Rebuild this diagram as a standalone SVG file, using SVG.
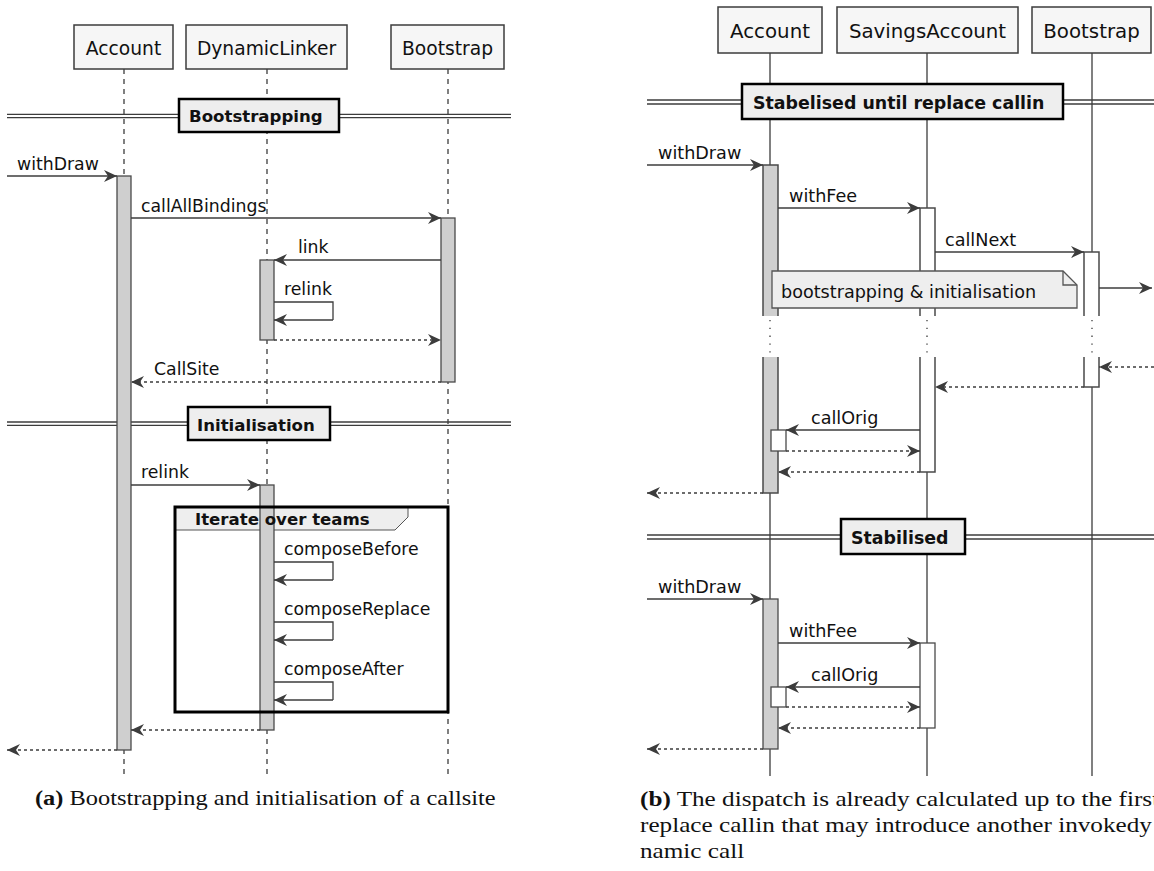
<svg xmlns="http://www.w3.org/2000/svg" width="1154" height="871" viewBox="0 0 1154 871">
<style>
.bg{fill:#ffffff}
.part rect{fill:#f6f6f6;stroke:#3c3c3c;stroke-width:1.5}
.ptxt{font-family:"DejaVu Sans",sans-serif;fill:#111;text-anchor:middle}
.ll{stroke:#3c3c3c;stroke-width:1.3;fill:none}
.lld{stroke:#3c3c3c;stroke-width:1.3;stroke-dasharray:5,5;fill:none}
.dots{stroke:#3c3c3c;stroke-width:1.3;stroke-dasharray:1.3,6.5;fill:none}
.act{fill:#cfcfcf;stroke:#4a4a4a;stroke-width:1.3}
.actw{fill:#ffffff;stroke:#4a4a4a;stroke-width:1.3}
.actf{fill:#cfcfcf;stroke:none}
.actfw{fill:#ffffff;stroke:none}
.side{stroke:#4a4a4a;stroke-width:1.5;fill:none}
.msg{stroke:#3c3c3c;stroke-width:1.3;fill:none;marker-end:url(#ah)}
.ret{stroke:#3c3c3c;stroke-width:1.3;fill:none;stroke-dasharray:3,3;marker-end:url(#ah)}
.self{stroke:#3c3c3c;stroke-width:1.3;fill:none}
.lbl{font-family:"DejaVu Sans",sans-serif;font-size:17.3px;fill:#111}
.lblb{font-family:"DejaVu Sans",sans-serif;font-size:17.6px;fill:#111}
.divl{stroke:#3c3c3c;stroke-width:1.3;fill:none}
.divb{fill:#eeeeee;stroke:#000;stroke-width:2.5}
.divt{font-family:"DejaVu Sans",sans-serif;font-weight:bold;font-size:16.6px;fill:#111}
.divtb{font-family:"DejaVu Sans",sans-serif;font-weight:bold;font-size:17.4px;fill:#111}
.cap{font-family:"Liberation Serif","Times New Roman",serif;font-size:20px;fill:#111}
</style>
<defs>
<marker id="ah" viewBox="-14 -7 15 14" refX="0" refY="0" markerWidth="15" markerHeight="14" markerUnits="userSpaceOnUse" orient="auto">
<path d="M0,0 L-13,-6 L-9,0 L-13,6 Z" fill="#3c3c3c"/>
</marker>
</defs>
<rect class="bg" x="0" y="0" width="1154" height="871"/>

<!-- ===== Left diagram ===== -->
<g id="left-lifelines">
<line class="lld" x1="124" y1="69" x2="124" y2="776"/>
<line class="lld" x1="267" y1="69" x2="267" y2="776"/>
<line class="lld" x1="448" y1="69" x2="448" y2="776"/>
</g>
<g id="a-account" class="part"><rect x="74" y="25" width="99" height="44"/><text class="ptxt" x="123.5" y="54.5" font-size="18.7">Account</text></g>
<g id="a-linker" class="part"><rect x="186" y="25" width="161" height="44"/><text class="ptxt" x="266.5" y="54.5" font-size="18.7">DynamicLinker</text></g>
<g id="a-bootstrap" class="part"><rect x="391" y="25" width="113" height="44"/><text class="ptxt" x="447.5" y="54.5" font-size="18.7">Bootstrap</text></g>

<g id="a-div-bootstrapping">
<line class="divl" x1="7" y1="114.3" x2="511" y2="114.3"/>
<line class="divl" x1="7" y1="117.7" x2="511" y2="117.7"/>
<rect class="divb" x="179" y="99" width="160" height="33"/>
<text class="divt" x="189" y="122">Bootstrapping</text>
</g>
<g id="a-div-init">
<line class="divl" x1="7" y1="422" x2="511" y2="422"/>
<line class="divl" x1="7" y1="425.4" x2="511" y2="425.4"/>
<rect class="divb" x="188" y="407" width="142" height="33"/>
<text class="divt" x="197" y="430.5">Initialisation</text>
</g>

<g id="a-activations">
<rect class="act" x="117" y="176" width="14" height="574"/>
<rect class="act" x="441" y="218" width="14" height="164"/>
<rect class="act" x="260" y="260" width="14" height="80"/>
</g>

<g id="a-loop">
<path d="M175,507 H408 V517 L395,530 H175 Z" fill="#eeeeee" stroke="#555" stroke-width="1"/>
<rect class="act" x="260" y="485" width="14" height="245"/>
<rect x="175" y="507" width="273" height="205" fill="none" stroke="#000" stroke-width="3"/>
<text class="divt" x="195" y="525">Iterate over teams</text>
</g>

<g id="a-connectors">
<line class="msg" x1="7" y1="176" x2="117" y2="176"/>
<text class="lbl" x="17" y="169.5">withDraw</text>
<line class="msg" x1="131" y1="218" x2="441" y2="218"/>
<text class="lbl" x="141" y="211.5">callAllBindings</text>
<line class="msg" x1="441" y1="260" x2="274" y2="260"/>
<text class="lbl" x="298" y="253">link</text>
<path class="self" d="M274,302 H333 V320"/>
<line class="msg" x1="333" y1="320" x2="274" y2="320"/>
<text class="lbl" x="284" y="295">relink</text>
<line class="ret" x1="274" y1="340" x2="441" y2="340"/>
<line class="ret" x1="441" y1="382" x2="131" y2="382"/>
<text class="lbl" x="154" y="375">CallSite</text>
<line class="msg" x1="131" y1="485" x2="260" y2="485"/>
<text class="lbl" x="141" y="478">relink</text>
<path class="self" d="M274,562 H333 V580"/>
<line class="msg" x1="333" y1="580" x2="274" y2="580"/>
<text class="lbl" x="284" y="555">composeBefore</text>
<path class="self" d="M274,622 H333 V640"/>
<line class="msg" x1="333" y1="640" x2="274" y2="640"/>
<text class="lbl" x="284" y="615">composeReplace</text>
<path class="self" d="M274,682 H333 V700"/>
<line class="msg" x1="333" y1="700" x2="274" y2="700"/>
<text class="lbl" x="284" y="675">composeAfter</text>
<line class="ret" x1="260" y1="730" x2="131" y2="730"/>
<line class="ret" x1="117" y1="750" x2="7" y2="750"/>
</g>

<!-- ===== Right diagram ===== -->
<g id="right-lifelines">
<line class="ll" x1="770" y1="53" x2="770" y2="316"/>
<line class="ll" x1="770" y1="357" x2="770" y2="776"/>
<line class="ll" x1="927" y1="53" x2="927" y2="316"/>
<line class="ll" x1="927" y1="357" x2="927" y2="776"/>
<line class="ll" x1="1092" y1="53" x2="1092" y2="316"/>
<line class="ll" x1="1092" y1="357" x2="1092" y2="776"/>
<line class="dots" x1="770" y1="320" x2="770" y2="356"/>
<line class="dots" x1="927" y1="320" x2="927" y2="356"/>
<line class="dots" x1="1092" y1="320" x2="1092" y2="356"/>
</g>
<g id="b-account" class="part"><rect x="718" y="7" width="104" height="46"/><text class="ptxt" x="770" y="38" font-size="19.8">Account</text></g>
<g id="b-savings" class="part"><rect x="837" y="7" width="181" height="46"/><text class="ptxt" x="927.5" y="38" font-size="19.8">SavingsAccount</text></g>
<g id="b-bootstrap" class="part"><rect x="1032" y="7" width="119" height="46"/><text class="ptxt" x="1091.5" y="38" font-size="19.8">Bootstrap</text></g>

<g id="b-div-until">
<line class="divl" x1="647" y1="100" x2="1154" y2="100"/>
<line class="divl" x1="647" y1="104" x2="1154" y2="104"/>
<rect class="divb" x="742" y="84" width="321" height="35"/>
<text class="divtb" x="753" y="108.5">Stabelised until replace callin</text>
</g>
<g id="b-div-stab">
<line class="divl" x1="647" y1="535" x2="1154" y2="535"/>
<line class="divl" x1="647" y1="539" x2="1154" y2="539"/>
<rect class="divb" x="841" y="519" width="124" height="35"/>
<text class="divtb" x="851" y="543.5">Stabilised</text>
</g>

<g id="b-activations">
<rect class="actf" x="763" y="165" width="15" height="151"/>
<path class="side" d="M763,316 V165 H778 V316"/>
<rect class="actf" x="763" y="357" width="15" height="136"/>
<path class="side" d="M763,357 V493 H778 V357"/>
<rect class="actfw" x="920" y="208" width="15" height="108"/>
<path class="side" d="M920,316 V208 H935 V316"/>
<rect class="actfw" x="920" y="357" width="15" height="115"/>
<path class="side" d="M920,357 V472 H935 V357"/>
<rect class="actfw" x="1084" y="252" width="15" height="64"/>
<path class="side" d="M1084,316 V252 H1099 V316"/>
<rect class="actfw" x="1084" y="357" width="15" height="30"/>
<path class="side" d="M1084,357 V387 H1099 V357"/>
<rect class="actw" x="771" y="430" width="15" height="21"/>
<rect class="act" x="763" y="599" width="15" height="150"/>
<rect class="actw" x="920" y="643" width="15" height="85"/>
<rect class="actw" x="771" y="687" width="15" height="20"/>
</g>

<g id="b-note">
<path d="M772,271 H1063 L1077,285 V308 H772 Z" fill="#eeeeee" stroke="#555" stroke-width="1.3"/>
<path d="M1063,271 V285 H1077" fill="none" stroke="#555" stroke-width="1.3"/>
<text class="lblb" x="781" y="298">bootstrapping &amp; initialisation</text>
</g>

<g id="b-connectors">
<line class="msg" x1="647" y1="165" x2="763" y2="165"/>
<text class="lblb" x="658" y="158.5">withDraw</text>
<line class="msg" x1="778" y1="208" x2="920" y2="208"/>
<text class="lblb" x="789" y="201.5">withFee</text>
<line class="msg" x1="935" y1="252" x2="1084" y2="252"/>
<text class="lblb" x="945" y="245.5">callNext</text>
<line class="msg" x1="1099" y1="288" x2="1152" y2="288"/>
<line class="ret" x1="1154" y1="367" x2="1099" y2="367"/>
<line class="ret" x1="1084" y1="387" x2="935" y2="387"/>
<line class="msg" x1="920" y1="430" x2="786" y2="430"/>
<text class="lblb" x="811" y="423.5">callOrig</text>
<line class="ret" x1="786" y1="451" x2="920" y2="451"/>
<line class="ret" x1="920" y1="472" x2="778" y2="472"/>
<line class="ret" x1="763" y1="493" x2="647" y2="493"/>
<line class="msg" x1="647" y1="599" x2="763" y2="599"/>
<text class="lblb" x="658" y="592.5">withDraw</text>
<line class="msg" x1="778" y1="643" x2="920" y2="643"/>
<text class="lblb" x="789" y="636.5">withFee</text>
<line class="msg" x1="920" y1="687" x2="786" y2="687"/>
<text class="lblb" x="811" y="680.5">callOrig</text>
<line class="ret" x1="786" y1="707" x2="920" y2="707"/>
<line class="ret" x1="920" y1="728" x2="778" y2="728"/>
<line class="ret" x1="763" y1="749" x2="647" y2="749"/>
</g>

<g id="captions">
<g transform="translate(35,0) scale(1.22,1)">
<text class="cap" x="0" y="805"><tspan font-weight="bold">(a)</tspan> Bootstrapping and initialisation of a callsite</text>
</g>
<g transform="translate(640,0) scale(1.26,1)">
<text class="cap" x="0" y="806"><tspan font-weight="bold">(b)</tspan> The dispatch is already calculated up to the first</text>
<text class="cap" x="0" y="832">replace callin that may introduce another invokedy</text>
<text class="cap" x="0" y="858">namic call</text>
</g>
</g>
</svg>
